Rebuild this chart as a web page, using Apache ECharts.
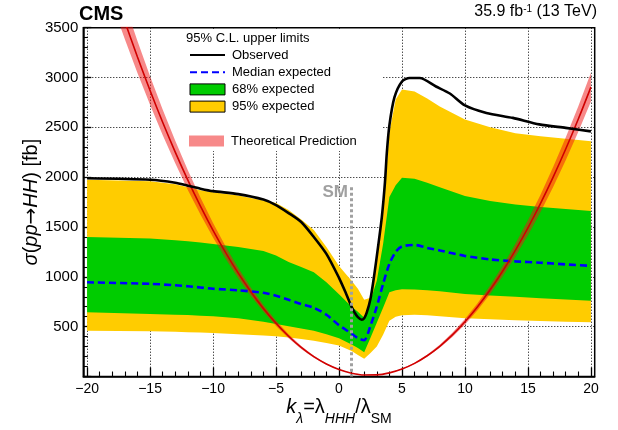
<!DOCTYPE html>
<html><head><meta charset="utf-8">
<script src="https://cdn.jsdelivr.net/npm/echarts@6/dist/echarts.min.js"></script>
<style>html,body{margin:0;padding:0;background:#fff}#c{width:618px;height:430px}</style>
</head><body><div id="c"></div>
<script>
// ---- tick labels ----
const xTicks = [-20, -15, -10, -5, 0, 5, 10, 15, 20];
const xMinorTicks = [-19,-18,-17,-16,-14,-13,-12,-11,-9,-8,-7,-6,-4,-3,-2,-1,1,2,3,4,6,7,8,9,11,12,13,14,16,17,18,19];
const yTicks = [500, 1000, 1500, 2000, 2500, 3000, 3500];

// ---- expected limits (fb) ----
const bandX      = [-20,-15,-13,-12,-11,-10,-8,-6,-5,-4,-3,-2,-1,0,1,1.5,2,2.5,3,3.5,4,4.5,5,6,7,8,10,12,14,16,18,20];
const exp95High  = [1975,1960,1930,1900,1870,1850,1815,1765,1740,1670,1575,1470,1300,1110,960,880,770,790,1150,1650,2450,2780,2880,2860,2790,2710,2580,2500,2440,2410,2385,2360];
const exp68High  = [1400,1385,1368,1358,1345,1330,1300,1260,1215,1150,1100,1045,945,825,700,650,590,760,960,1330,1800,1920,1995,1985,1945,1900,1810,1760,1725,1700,1680,1660];
const expMedian  = [945,930,915,905,893,880,865,840,810,770,728,690,620,515,430,385,365,510,700,930,1130,1250,1305,1320,1290,1265,1210,1175,1155,1142,1125,1110];
const exp68Low   = [644,627,620,616,610,604,585,550,527,505,482,460,425,384,320,285,244,390,540,690,845,865,875,872,865,855,827,812,800,785,772,760];
const exp95Low   = [460,454,448,445,441,437,425,412,404,392,376,358,335,310,255,215,177,235,300,420,560,600,615,620,615,605,585,575,565,558,550,545];

// ---- observed limit (fb) ----
const obsX   = [-20,-15,-13,-12,-11,-10,-8,-6,-5,-4,-3,-2,-1,0,0.5,1,1.25,1.5,1.8,2.0,2.2,2.5,2.8,3.1,3.4,3.65,3.8,4.0,4.4,5.0,5.6,6.4,7.7,8.8,10,11.7,13.8,15.9,18,20];
const obsVal = [1990,1975,1945,1915,1885,1860,1830,1775,1720,1640,1550,1400,1230,990,850,700,640,595,570,585,640,780,1020,1300,1600,1950,2250,2520,2800,2960,2995,2995,2910,2840,2720,2645,2595,2530,2495,2460];

// ---- theoretical prediction (fb) ----
const thX       = [-20,-19,-18,-17,-16,-15,-14,-13,-12,-11,-10,-9,-8,-7,-6,-5,-4,-3,-2,-1,0,1,2,3,4,5,6,7,8,9,10,11,12,13,14,15,16,17,18,19,20];
const thCentral = [4740,4328,3935,3561,3206,2869,2551,2252,1971,1710,1467,1243,1037,851,683,534,404,292,199,125,70,33.5,15.7,16.8,36.5,75,132,208,303,417,549,700,870,1059,1266,1492,1737,2001,2283,2584,2904];
const thLow     = [4503,4112,3738,3383,3046,2726,2423,2139,1872,1625,1394,1181,985,808,649,507,384,277,189,119,67,32,15,16,35,71,125,198,288,396,522,665,827,1006,1203,1417,1650,1901,2169,2455,2759];
const thHigh    = [4977,4544,4132,3739,3366,3012,2679,2365,2070,1796,1540,1305,1089,894,717,561,424,307,209,131,74,35,16.5,17.6,38,79,139,218,318,438,576,735,914,1112,1329,1567,1824,2101,2397,2713,3049];

const smKappa = 1;
const smTop = 1900;

// ---- build ----
const zip = (xs, ys) => xs.map((x, i) => [x, ys[i]]);
// rows [y, x] so that the stacked dimension is the y value
const zipYX = (xs, ys) => xs.map((x, i) => [ys[i], x]);
const diff = (a, b) => a.map((v, i) => v - b[i]);
const FONT = '"Liberation Sans", Arial, Helvetica, sans-serif';
const minus = v => (v < 0 ? '\u2212' + (-v) : String(v));
const C_Y = '#ffcc00', C_G = '#00cc00', C_TH = 'rgba(240,20,20,0.5)';
const dotted = { color: '#000', width: 1, type: [1, 2] };
const hidden = { opacity: 0 };
const noSym = { color: 'rgba(0,0,0,0)', borderColor: 'rgba(0,0,0,0)', borderWidth: 0, opacity: 0 };
const YX = { x: 1, y: 0 };

const chart = echarts.init(document.getElementById('c'), null, { renderer: 'canvas' });
chart.setOption({
  animation: false,
  textStyle: { fontFamily: FONT, color: '#000' },
  title: [
    { text: 'CMS', left: 79, top: 4, padding: 0,
      textStyle: { fontSize: 20, fontWeight: 'bold', color: '#000', lineHeight: 20, fontFamily: FONT } },
    { text: '{a|35.9 fb}{s|-1}{a| (13 TeV)}', right: 21, top: 4, padding: 0,
      textStyle: { fontWeight: 'normal', rich: {
        a: { fontSize: 16, lineHeight: 18, fontWeight: 'normal', verticalAlign: 'top', color: '#000', fontFamily: FONT },
        s: { fontSize: 10, lineHeight: 10, fontWeight: 'normal', verticalAlign: 'top', color: '#000', fontFamily: FONT } } } }
  ],
  grid: { left: 83.3, right: 23.3, top: 27.7, bottom: 53.5, containLabel: false, outerBoundsMode: 'none',
    show: true, borderColor: '#000', borderWidth: 1.5, backgroundColor: 'transparent' },
  legend: [
    { orient: 'vertical', left: 189, top: 48.5, itemWidth: 35, itemHeight: 11, itemGap: 4.2, padding: 0,
      selectedMode: false, textStyle: { fontSize: 13, color: '#000', fontFamily: FONT, padding: [0, 0, 0, 2] },
      data: [
        { name: 'Observed', itemStyle: noSym },
        { name: 'Median expected', itemStyle: noSym },
        { name: '68% expected', icon: 'rect', itemStyle: { color: C_G, borderColor: '#000', borderWidth: 1 } },
        { name: '95% expected', icon: 'rect', itemStyle: { color: C_Y, borderColor: '#000', borderWidth: 1 } }
      ] },
    { orient: 'vertical', left: 189, top: 134.5, itemWidth: 35, itemHeight: 11, padding: 0,
      selectedMode: false, textStyle: { fontSize: 13, color: '#000', fontFamily: FONT, padding: [0, 0, 0, 2] },
      data: [ { name: 'Theoretical Prediction', icon: 'rect', itemStyle: { color: C_TH, borderWidth: 0 } } ] }
  ],
  xAxis: [
    { type: 'value', min: -20.3, max: 20.3, position: 'bottom',
      axisLine: { show: true, onZero: false, lineStyle: { color: '#000', width: 1.5 } },
      axisTick: { show: true, inside: true, length: 9, customValues: xTicks, lineStyle: { color: '#000', width: 1.3 } },
      axisLabel: { show: true, customValues: xTicks, fontSize: 14, color: '#000', margin: 6, formatter: minus, fontFamily: FONT },
      splitLine: { show: true, lineStyle: dotted },
      name: '{i|k}{si|\u03bb}{n|=\u03bb}{si|HHH}{n|/\u03bb}{s|SM}',
      nameLocation: 'middle', nameGap: 30, nameMoveOverlap: false,
      nameTextStyle: { rich: {
        i: { fontSize: 20, fontStyle: 'italic', lineHeight: 20, padding: [0, 0, 9, 0], verticalAlign: 'bottom', color: '#000', fontFamily: FONT },
        n: { fontSize: 20, lineHeight: 20, padding: [0, 0, 9, 0], verticalAlign: 'bottom', color: '#000', fontFamily: FONT },
        si: { fontSize: 14, fontStyle: 'italic', lineHeight: 14, verticalAlign: 'bottom', color: '#000', fontFamily: FONT },
        s: { fontSize: 14, lineHeight: 14, verticalAlign: 'bottom', color: '#000', fontFamily: FONT } } } },
    { type: 'value', min: -20.3, max: 20.3, position: 'bottom',
      axisLine: { show: false, onZero: false },
      axisTick: { show: true, inside: true, length: 5, customValues: xMinorTicks, lineStyle: { color: '#000', width: 1.1 } },
      axisLabel: { show: false }, splitLine: { show: false } }
  ],
  yAxis: [
    { type: 'value', min: 0, max: 3500, interval: 500, position: 'left',
      axisLine: { show: true, onZero: false, lineStyle: { color: '#000', width: 1.5 } },
      axisTick: { show: true, inside: true, length: 8, lineStyle: { color: '#000', width: 1.3 } },
      minorTick: { show: true, splitNumber: 5, length: 4.5, lineStyle: { color: '#000', width: 1.1 } },
      axisLabel: { fontSize: 15, color: '#000', margin: 5, fontFamily: FONT,
        formatter: v => (yTicks.indexOf(v) >= 0 ? String(v) : '') },
      splitLine: { show: true, lineStyle: dotted },
      name: '{i|\u03c3}{n|(}{i|pp}{a|\u2192}{i|HH}{n|) [fb]}',
      nameLocation: 'middle', nameGap: 42, nameRotate: 90, nameMoveOverlap: false,
      nameTextStyle: { rich: {
        i: { fontSize: 20, fontStyle: 'italic', color: '#000', fontFamily: FONT },
        a: { fontSize: 20, color: '#000', fontFamily: '"DejaVu Sans", sans-serif' },
        n: { fontSize: 20, color: '#000', fontFamily: FONT } } } }
  ],
  graphic: [
    { type: 'rect', z: 1, silent: true, shape: { x: 152, y: 29, width: 230, height: 122 }, style: { fill: '#ffffff' } },
    { type: 'text', z: 10, silent: true, x: 186, y: 38,
      style: { text: '95% C.L. upper limits', fontSize: 13, fontFamily: FONT, fill: '#000', verticalAlign: 'middle' } },
    { type: 'text', z: 10, silent: true, x: 348, y: 192,
      style: { text: 'SM', fontSize: 17, fontWeight: 'bold', fontFamily: FONT, fill: '#a0a0a0', align: 'right', verticalAlign: 'middle' } }
  ],
  series: [
    { type: 'line', name: '_y95base', stack: 'y95', encode: YX, data: zipYX(bandX, exp95Low), symbol: 'none', lineStyle: hidden, silent: true },
    { type: 'line', name: '95% expected', stack: 'y95', encode: YX, data: zipYX(bandX, diff(exp95High, exp95Low)), symbol: 'none',
      lineStyle: hidden, itemStyle: { color: C_Y }, areaStyle: { color: C_Y, opacity: 1 }, silent: true },
    { type: 'line', name: '_y68base', stack: 'y68', encode: YX, data: zipYX(bandX, exp68Low), symbol: 'none', lineStyle: hidden, silent: true },
    { type: 'line', name: '68% expected', stack: 'y68', encode: YX, data: zipYX(bandX, diff(exp68High, exp68Low)), symbol: 'none',
      lineStyle: hidden, itemStyle: { color: C_G }, areaStyle: { color: C_G, opacity: 1 }, silent: true },
    { type: 'line', name: '_sm', data: [], symbol: 'none', silent: true,
      markLine: { silent: true, symbol: ['none', 'none'], label: { show: false },
        lineStyle: { color: '#a0a0a0', width: 3, type: [3, 2.5] },
        data: [[{ coord: [smKappa, smTop] }, { coord: [smKappa, 0] }]] } },
    { type: 'line', name: 'Median expected', data: zip(bandX, expMedian), symbol: 'none', smooth: 0.25,
      lineStyle: { color: '#0000ff', width: 2.6, type: [7, 4] }, itemStyle: { color: '#0000ff' }, silent: true },
    { type: 'line', name: '_thbase', stack: 'th', encode: YX, data: zipYX(thX, thLow), symbol: 'none', lineStyle: hidden, silent: true },
    { type: 'line', name: 'Theoretical Prediction', stack: 'th', encode: YX, data: zipYX(thX, diff(thHigh, thLow)), symbol: 'none',
      lineStyle: hidden, itemStyle: { color: C_TH }, areaStyle: { color: C_TH, opacity: 1 }, silent: true },
    { type: 'line', name: '_thline', data: zip(thX, thCentral), symbol: 'none', smooth: 0.3,
      lineStyle: { color: '#d00000', width: 1.6 }, silent: true },
    { type: 'line', name: 'Observed', data: zip(obsX, obsVal), symbol: 'none', smooth: 0.25,
      lineStyle: { color: '#000', width: 2.6 }, itemStyle: { color: '#000' }, silent: true }
  ]
});
</script></body></html>
